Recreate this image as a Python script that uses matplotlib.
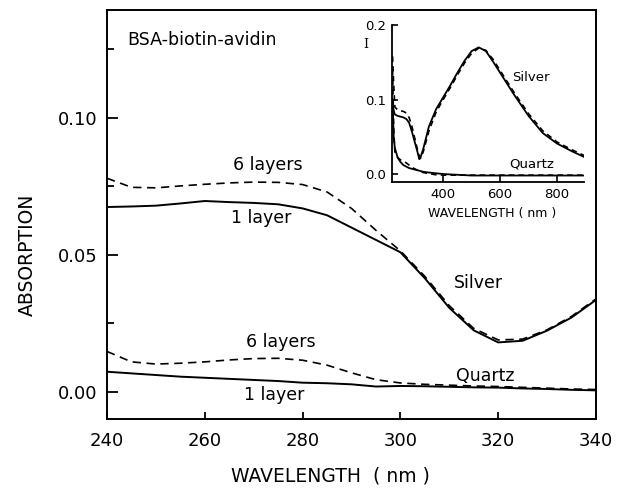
import numpy as np
import matplotlib
matplotlib.use('Agg')
import matplotlib.pyplot as plt

# main panel data (absorption vs wavelength, nm)
wl = [240, 245, 250, 255, 260, 265, 270, 275, 280, 285, 290, 295,
      300, 305, 310, 315, 320, 325, 330, 335, 340]
silver_1 = [0.0675, 0.0677, 0.0680, 0.0688, 0.0697, 0.0693, 0.0690, 0.0685, 0.0670, 0.0645, 0.0600, 0.0555,
            0.0510, 0.0415, 0.0307, 0.0225, 0.0181, 0.0187, 0.0224, 0.0272, 0.0336]
silver_6 = [0.0780, 0.0747, 0.0745, 0.0752, 0.0758, 0.0763, 0.0766, 0.0765, 0.0757, 0.0730, 0.0670, 0.0590,
            0.0515, 0.0422, 0.0315, 0.0232, 0.0190, 0.0193, 0.0227, 0.0276, 0.0340]
quartz_1 = [0.0074, 0.0068, 0.0062, 0.0056, 0.0052, 0.0048, 0.0044, 0.0040, 0.0034, 0.0032, 0.0028, 0.0020,
            0.0022, 0.0021, 0.0019, 0.0017, 0.0016, 0.0013, 0.0011, 0.0008, 0.0006]
quartz_6 = [0.0148, 0.0110, 0.0102, 0.0105, 0.0110, 0.0117, 0.0122, 0.0123, 0.0116, 0.0098, 0.0070, 0.0045,
            0.0033, 0.0028, 0.0025, 0.0022, 0.0020, 0.0017, 0.0014, 0.0011, 0.0009]

# inset data
wl_in = [222, 226, 230, 240, 250, 260, 270, 280, 290, 300, 310, 316, 320, 330, 350, 375,
         400, 425, 450, 475, 500, 525, 550, 575, 600, 650, 700, 750, 800, 850, 895]
silver_in = [0.095, 0.085, 0.080, 0.078, 0.077, 0.076, 0.074, 0.069, 0.057, 0.043, 0.029, 0.020, 0.022, 0.034, 0.064, 0.087,
             0.103, 0.119, 0.136, 0.152, 0.165, 0.170, 0.165, 0.151, 0.136, 0.106, 0.078, 0.055, 0.041, 0.031, 0.023]
silver_in_d = [0.158, 0.120, 0.090, 0.086, 0.085, 0.084, 0.082, 0.076, 0.064, 0.048, 0.032, 0.024, 0.021, 0.030, 0.058, 0.083,
               0.100, 0.116, 0.133, 0.149, 0.162, 0.169, 0.166, 0.154, 0.139, 0.109, 0.081, 0.058, 0.043, 0.033, 0.025]
quartz_in = [0.100, 0.050, 0.035, 0.022, 0.016, 0.012, 0.010, 0.008, 0.007, 0.006, 0.005, 0.0045, 0.004, 0.003, 0.002, 0.001,
             0.0, -0.0005, -0.001, -0.0015, -0.002, -0.002, -0.002, -0.002, -0.002, -0.002, -0.002, -0.002, -0.002, -0.002, -0.002]
quartz_in_d = [0.140, 0.060, 0.030, 0.022, 0.019, 0.017, 0.015, 0.012, 0.009, 0.007, 0.005, 0.004, 0.0035, 0.002, 0.0005, -0.001,
               -0.0015, -0.0015, -0.0015, -0.0015, -0.0015, -0.0015, -0.0015, -0.0015, -0.0015, -0.0015, -0.0015, -0.0015, -0.0015, -0.0015, -0.0015]

plt.rcParams['lines.scale_dashes'] = False
W, H = 621, 493
fig = plt.figure(figsize=(W/100, H/100), dpi=100)

#main axes
ax = fig.add_axes([107/W, 74/H, 489/W, 409/H])
dash = (0, (6, 4))
ax.plot(wl, silver_1, color='k', lw=1.4)
ax.plot(wl, silver_6, color='k', lw=1.2, linestyle=dash)
ax.plot(wl, quartz_1, color='k', lw=1.4)
ax.plot(wl, quartz_6, color='k', lw=1.2, linestyle=dash)
ax.set_xlim(240, 340)
ax.set_ylim(-0.00985, 0.1394)
ax.set_xticks([240, 260, 280, 300, 320, 340])
ax.set_yticks([0.0, 0.05, 0.10])
ax.set_yticklabels(['0.00', '0.05', '0.10'])
ax.set_yticks([0.025, 0.075, 0.125], minor=True)
ax.tick_params(axis='both', which='major', direction='in', labelsize=13, width=1.3)
ax.tick_params(axis='x', which='major', length=5, pad=9)
ax.tick_params(axis='y', which='major', length=8, pad=7)
ax.tick_params(axis='y', which='minor', direction='in', length=5, width=1.3)
for s in ax.spines.values():
    s.set_linewidth(1.4)

ax.text(244.1, 0.1285, 'BSA-biotin-avidin', fontsize=12.5, ha='left', va='center')
ax.text(272.9, 0.0828, '6 layers', fontsize=12.5, ha='center', va='center')
ax.text(271.6, 0.0635, '1 layer', fontsize=12.5, ha='center', va='center')
ax.text(315.9, 0.0398, 'Silver', fontsize=12.5, ha='center', va='center')
ax.text(275.5, 0.0182, '6 layers', fontsize=12.5, ha='center', va='center')
ax.text(317.3, 0.0058, 'Quartz', fontsize=12.5, ha='center', va='center')
ax.text(274.1, -0.0011, '1 layer', fontsize=12.5, ha='center', va='center')

fig.text(330/W, 1 - 476/H, 'WAVELENGTH  ( nm )', fontsize=13.5, ha='center', va='center')
fig.text(27/W, 1 - 255/H, 'ABSORPTION', fontsize=13.5, ha='center', va='center', rotation=90)

#inset
axi = fig.add_axes([392/W, 311/H, 192/W, 157/H])
axi.patch.set_alpha(0)
axi.plot(wl_in, silver_in, color='k', lw=1.3)
axi.plot(wl_in, silver_in_d, color='k', lw=1.2, linestyle=(0, (4, 3)))
axi.plot(wl_in, quartz_in, color='k', lw=1.3)
axi.plot(wl_in, quartz_in_d, color='k', lw=1.2, linestyle=(0, (4, 3)))
axi.set_xlim(220, 895)
axi.set_ylim(-0.0107, 0.2)
axi.spines['top'].set_visible(False)
axi.spines['right'].set_visible(False)
for s in ['left', 'bottom']:
    axi.spines[s].set_linewidth(1.3)
axi.set_xticks([400, 600, 800])
axi.set_yticks([0.0, 0.1, 0.2])
axi.set_yticklabels(['0.0', '0.1', '0.2'])
axi.tick_params(direction='in', labelsize=9.5, length=4, width=1.2, pad=4)
axi.text(708.8, 0.129, 'Silver', fontsize=9.5, ha='center', va='center')
axi.text(712, 0.0133, 'Quartz', fontsize=9.5, ha='center', va='center')
fig.text(492/W, 1 - 213/H, 'WAVELENGTH ( nm )', fontsize=9, ha='center', va='center')
fig.text(366/W, 1 - 45/H, 'I', fontsize=9, ha='center', va='center', family='DejaVu Serif')

fig.savefig('out.png', dpi=100)
